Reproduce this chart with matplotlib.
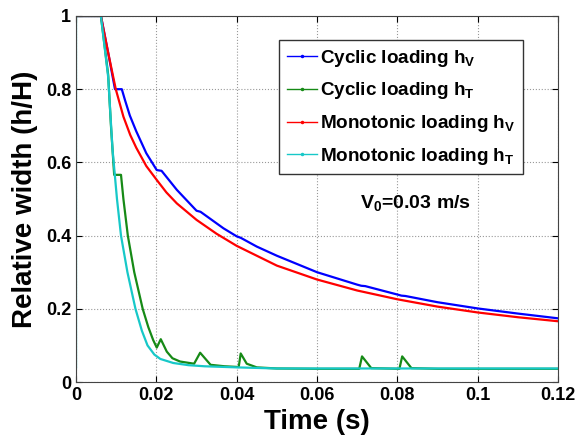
import matplotlib
matplotlib.use('Agg')
import matplotlib.pyplot as plt
from matplotlib.lines import Line2D

plt.rcParams['font.family'] = 'Liberation Sans'
plt.rcParams['font.weight'] = 'bold'
plt.rcParams['mathtext.fontset'] = 'custom'
plt.rcParams['mathtext.rm'] = 'Liberation Sans:bold'
plt.rcParams['mathtext.it'] = 'Liberation Sans:bold'
plt.rcParams['mathtext.bf'] = 'Liberation Sans:bold'

## cyclic loading h_V (blue)
t_cyc_v = [0, 0.0062, 0.008, 0.0097, 0.0114, 0.0122, 0.0134, 0.015, 0.0175, 0.0201, 0.0213,
           0.0251, 0.030, 0.031, 0.0367, 0.040, 0.041, 0.045, 0.050, 0.060,
           0.070, 0.071, 0.072, 0.080, 0.081, 0.082, 0.090, 0.100, 0.110, 0.120]
h_cyc_v = [1.0, 1.0, 0.90, 0.80, 0.80, 0.77, 0.728, 0.685, 0.625, 0.579, 0.577,
           0.525, 0.468, 0.465, 0.42, 0.398, 0.394, 0.37, 0.345, 0.300,
           0.266, 0.263, 0.262, 0.239, 0.236, 0.235, 0.218, 0.201, 0.187, 0.174]

## cyclic loading h_T (green)
t_cyc_t = [0, 0.0062, 0.008, 0.0087, 0.0095, 0.0112, 0.0118, 0.0129, 0.0145,
           0.0166, 0.018, 0.0192, 0.0201, 0.0211, 0.0226, 0.024, 0.0259, 0.0294,
           0.0309, 0.0335, 0.037, 0.0405, 0.041, 0.0425, 0.045, 0.050, 0.060,
           0.0705, 0.0712, 0.0735, 0.0805, 0.0812, 0.0835, 0.090, 0.120]
h_cyc_t = [1.0, 1.0, 0.84, 0.70, 0.566, 0.566, 0.50, 0.40, 0.30,
           0.20, 0.15, 0.115, 0.094, 0.117, 0.083, 0.065, 0.056, 0.050,
           0.080, 0.047, 0.043, 0.041, 0.078, 0.05, 0.040, 0.037, 0.036,
           0.036, 0.07, 0.038, 0.036, 0.07, 0.038, 0.036, 0.036]

## monotonic loading h_V (red)
t_mon_v = [0, 0.0062, 0.008, 0.0099, 0.0118, 0.0135, 0.015, 0.0175, 0.0201, 0.0225,
           0.0251, 0.030, 0.035, 0.040, 0.050, 0.060, 0.070, 0.080, 0.090, 0.100,
           0.110, 0.120]
h_mon_v = [1.0, 1.0, 0.90, 0.80, 0.725, 0.675, 0.64, 0.59, 0.552, 0.518,
           0.488, 0.443, 0.405, 0.372, 0.318, 0.280, 0.250, 0.226, 0.206, 0.190,
           0.177, 0.166]

## monotonic loading h_T (cyan)
t_mon_t = [0, 0, 0.0062, 0.008, 0.0091, 0.0102, 0.0112, 0.0128, 0.0148, 0.0164,
           0.0178, 0.0195, 0.021, 0.0242, 0.028, 0.032, 0.040, 0.050, 0.120]
h_mon_t = [0.04, 1.0, 1.0, 0.834, 0.634, 0.50, 0.40, 0.30, 0.20, 0.14,
           0.10, 0.075, 0.063, 0.052, 0.046, 0.043, 0.040, 0.037, 0.037]

labels = [r'Cyclic loading h$_{\rm V}$', r'Cyclic loading h$_{\rm T}$',
          r'Monotonic loading h$_{\rm V}$', r'Monotonic loading h$_{\rm T}$']
colors = ['#0000ff', '#168a16', '#ff0000', '#17c8c8']

fig = plt.figure(figsize=(5.78, 4.44), dpi=100)
ax = fig.add_axes([0.1315, 0.1396, 0.834, 0.8244])

ax.plot(t_cyc_v, h_cyc_v, color=colors[0], lw=1.6)
ax.plot(t_cyc_t, h_cyc_t, color=colors[1], lw=1.6)
ax.plot(t_mon_v, h_mon_v, color=colors[2], lw=1.6)
ax.plot(t_mon_t, h_mon_t, color=colors[3], lw=1.6)

ax.set_xlim(0, 0.12)
ax.set_ylim(0, 1)
ax.set_xticks([0, 0.02, 0.04, 0.06, 0.08, 0.1, 0.12])
ax.set_xticklabels(['0', '0.02', '0.04', '0.06', '0.08', '0.1', '0.12'])
ax.set_yticks([0, 0.2, 0.4, 0.6, 0.8, 1])
ax.set_yticklabels(['0', '0.2', '0.4', '0.6', '0.8', '1'])
ax.tick_params(direction='in', top=True, right=True, length=4, labelsize=13, width=0.8)
ax.grid(True, linestyle=':', color='#999999', lw=0.8)
for s in ax.spines.values():
    s.set_color('#444444')

ax.set_xlabel('Time (s)', fontsize=20, fontweight='bold', labelpad=4)
ax.set_ylabel('Relative width (h/H)', fontsize=20, fontweight='bold', labelpad=6)

handles = [Line2D([], [], color=c, lw=1, marker='.', markersize=3) for c in colors]
leg = ax.legend(handles, labels, loc='upper right', bbox_to_anchor=(0.927, 0.934),
                fontsize=13.6, handlelength=1.6, handletextpad=0.15, labelspacing=0.62,
                borderpad=0.4, borderaxespad=0, fancybox=False, framealpha=1,
                edgecolor='#333333')
leg.get_frame().set_linewidth(1.0)

ax.text(0.0846, 0.49, r'V$_{\rm 0}$=0.03 m/s', fontsize=14, fontweight='bold',
        ha='center', va='center')

fig.savefig('out.png', dpi=100)
